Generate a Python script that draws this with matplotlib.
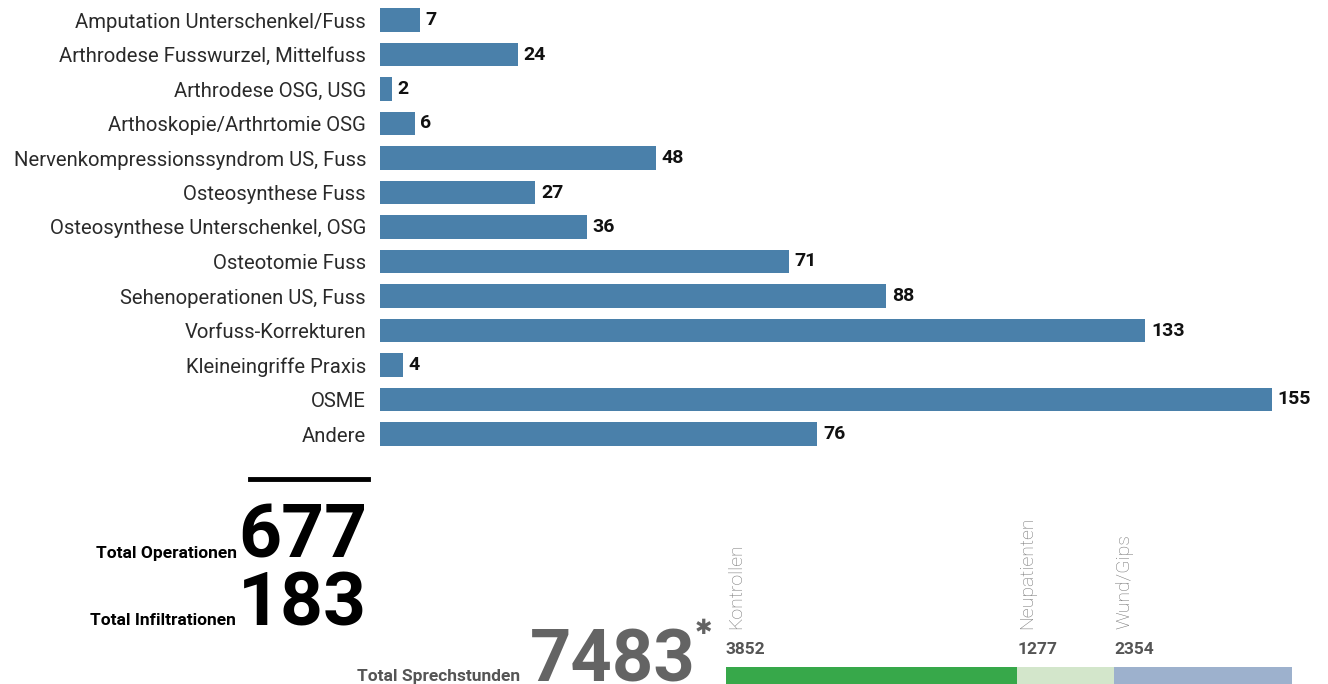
import matplotlib
matplotlib.use("Agg")
import matplotlib.pyplot as plt
from matplotlib.lines import Line2D

# Operationen nach Kategorie
categories = ["Amputation Unterschenkel/Fuss", "Arthrodese Fusswurzel, Mittelfuss",
              "Arthrodese OSG, USG", "Arthoskopie/Arthrtomie OSG",
              "Nervenkompressionssyndrom US, Fuss", "Osteosynthese Fuss",
              "Osteosynthese Unterschenkel, OSG", "Osteotomie Fuss",
              "Sehenoperationen US, Fuss", "Vorfuss-Korrekturen",
              "Kleineingriffe Praxis", "OSME", "Andere"]
counts = [7, 24, 2, 6, 48, 27, 36, 71, 88, 133, 4, 155, 76]

total_operationen = 677
total_infiltrationen = 183
total_sprechstunden = 7483

# Sprechstunden aufgeteilt
sprech_labels = ["Kontrollen", "Neupatienten", "Wund/Gips"]
sprech_values = [3852, 1277, 2354]
sprech_colors = ["#37a84a", "#d3e6cb", "#9db1cd"]

W, H = 1328, 684
BAR = "#4a80aa"
FONT = "Roboto"


def fx(x):
    return x / W


def fy(y):
    return 1 - y / H


fig = plt.figure(figsize=(W / 100, H / 100), dpi=100)

# Hauptbalken: 0..155 liegt zwischen x=380 und x=1272
ax = fig.add_axes([fx(380), fy(451.25), (1272 - 380) / W, 448.5 / H])
pos = list(range(len(categories)))
ax.barh(pos, counts, height=0.67, color=BAR)
ax.set_xlim(0, 155)
ax.set_ylim(len(categories) - 0.5, -0.5)
ax.set_yticks(pos)
ax.set_yticklabels(categories, fontsize=14.6, family=FONT, color="#2a2a2a")
ax.tick_params(axis="y", length=0, pad=10)
ax.set_xticks([])
for s in ax.spines.values():
    s.set_visible(False)
ax.patch.set_alpha(0)
for p, c in zip(pos, counts):
    ax.annotate(str(c), (c, p), xytext=(4, 0), textcoords="offset points",
                va="center", ha="left", fontsize=14, fontweight="bold",
                family=FONT, color="#111111")

# Totals
fig.add_artist(Line2D([fx(250), fx(368)], [fy(479), fy(479)], color="black", lw=3.5))
fig.text(fx(367), fy(557), str(total_operationen), ha="right", va="baseline",
         fontsize=54, fontweight="bold", family=FONT, color="black")
fig.text(fx(237), fy(558), "Total Operationen", ha="right", va="baseline",
         fontsize=12.5, fontweight="bold", family=FONT, color="black")
fig.text(fx(367), fy(625), str(total_infiltrationen), ha="right", va="baseline",
         fontsize=54, fontweight="bold", family=FONT, color="black")
fig.text(fx(236), fy(625), "Total Infiltrationen", ha="right", va="baseline",
         fontsize=12.5, fontweight="bold", family=FONT, color="black")

fig.text(fx(530), fy(682), str(total_sprechstunden), ha="left", va="baseline",
         fontsize=52, fontweight="bold", family=FONT, color="#646464")
fig.text(fx(695), fy(618), "\u2731", ha="left", va="top", fontsize=15,
         family="DejaVu Sans", color="#646464")
fig.text(fx(520), fy(681), "Total Sprechstunden", ha="right", va="baseline",
         fontsize=12.5, fontweight="bold", family=FONT, color="#555555")

# gestapelter Balken Sprechstunden
ax2 = fig.add_axes([fx(726), 0, 566 / W, 17 / H])
left = 0
for lab, v, col in zip(sprech_labels, sprech_values, sprech_colors):
    ax2.barh(0, v, left=left, height=1, color=col)
    xl = fx(726 + left / total_sprechstunden * 566)
    fig.text(xl, fy(649), str(v), ha="left", va="center", fontsize=12.5,
             fontweight="bold", family=FONT, color="#555555")
    fig.text(xl + 1 / W, fy(629), lab, ha="left", va="bottom", rotation=90,
             fontsize=14, family=FONT, fontweight="light", color="#777777")
    left += v
ax2.set_xlim(0, total_sprechstunden)
ax2.set_ylim(-0.5, 0.5)
ax2.axis("off")

fig.savefig("out.png", dpi=100)
